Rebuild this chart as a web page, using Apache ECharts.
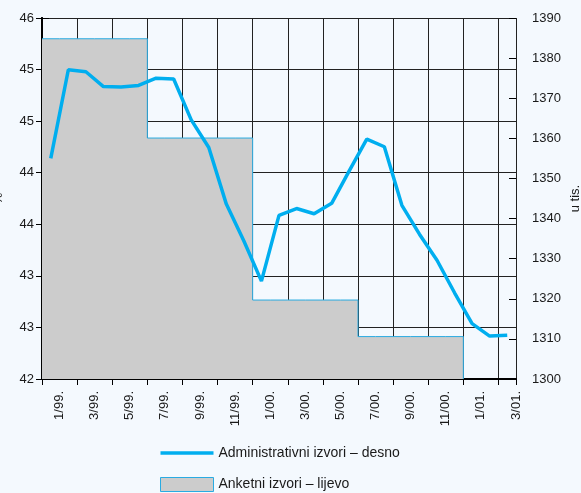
<!DOCTYPE html>
<html>
<head>
<meta charset="utf-8">
<script src="https://cdn.jsdelivr.net/npm/echarts@6/dist/echarts.min.js"></script>
<style>
html,body{margin:0;padding:0;background:#F4F9FE;}
#chart{width:581px;height:493px;}
</style>
</head>
<body>
<div id="chart"></div>
<script>
// Months (x axis categories)
var months = ['1/99.','2/99.','3/99.','4/99.','5/99.','6/99.','7/99.','8/99.','9/99.','10/99.','11/99.','12/99.',
              '1/00.','2/00.','3/00.','4/00.','5/00.','6/00.','7/00.','8/00.','9/00.','10/00.','11/00.','12/00.',
              '1/01.','2/01.','3/01.'];
// Administrativni izvori (right axis, u tis.)
var adminValues = [1355.0, 1377.1, 1376.6, 1372.9, 1372.8, 1373.2, 1375.0, 1374.8, 1364.6, 1357.7, 1343.6, 1334.4,
                   1324.4, 1340.8, 1342.5, 1341.2, 1343.8, 1351.9, 1359.8, 1357.9, 1343.3, 1336.1, 1329.6, 1321.5,
                   1313.8, 1310.7, 1310.9];
// Anketni izvori (left axis), per month
var surveyValues = [45.77, 45.77, 45.77, 45.77, 45.77, 45.77,
                    44.67, 44.67, 44.67, 44.67, 44.67, 44.67,
                    42.875, 42.875, 42.875, 42.875, 42.875, 42.875,
                    42.47, 42.47, 42.47, 42.47, 42.47, 42.47];
var leftMin = 42, leftMax = 46;
var rightTicks = [1300, 1390];

var nameAdmin = 'Administrativni izvori – desno';
var nameSurvey = 'Anketni izvori – lijevo';

var surveyData = surveyValues.map(function (v, i) { return [i, v]; });
surveyData.push([surveyValues.length, surveyValues[surveyValues.length - 1]]);
surveyData.push([surveyValues.length, leftMin]);
var adminData = adminValues.map(function (v, i) { return [i + 0.5, v]; });

var font = 'Liberation Sans, Arial, sans-serif';
var txt = '#1a1a1a';
var chart = echarts.init(document.getElementById('chart'));
chart.setOption({
  backgroundColor: '#F4F9FE',
  animation: false,
  grid: {left: 42, right: 65, top: 18, bottom: 114, containLabel: false, outerBoundsMode: 'none'},
  legend: {
    orient: 'vertical', left: 160, top: 446, padding: 0,
    itemWidth: 53, itemHeight: 14, itemGap: 17,
    textStyle: {fontSize: 14, color: txt, fontFamily: font},
    data: [
      {name: nameAdmin, icon: 'path://M0,0L53,0L53,3.5L0,3.5Z', itemStyle: {color: '#00AEEF', borderWidth: 0}},
      {name: nameSurvey, icon: 'rect', itemStyle: {color: '#CCCCCC', borderColor: '#29ABE2', borderWidth: 1}}
    ]
  },
  xAxis: [
    {
      type: 'value', min: 0, max: months.length, interval: 2, position: 'bottom',
      axisLine: {show: true, lineStyle: {color: '#000', width: 2}},
      axisTick: {show: true, length: 6, lineStyle: {color: '#000', width: 1}},
      axisLabel: {show: false},
      splitLine: {show: true, lineStyle: {color: '#222', width: 1}}
    },
    {
      type: 'value', min: 0, max: months.length, interval: 1, position: 'bottom',
      axisLine: {show: false}, axisTick: {show: false}, splitLine: {show: false},
      axisLabel: {
        show: true, rotate: 90, margin: 12, fontSize: 13, color: txt, fontFamily: font,
        padding: [5, 0, 0, 0],
        formatter: function (v) {
          var k = Math.round(v);
          return (k % 2 === 1 && months[k - 1]) ? months[k - 1] : '';
        }
      }
    }
  ],
  yAxis: [
    {
      type: 'value', min: leftMin, max: leftMax, interval: (leftMax - leftMin) / 7, position: 'left',
      name: '%', nameLocation: 'middle', nameGap: 37, nameRotate: 90,
      nameTextStyle: {fontSize: 13, color: txt, fontFamily: font},
      axisLine: {show: true, lineStyle: {color: '#000', width: 2}},
      axisTick: {show: true, length: 6, lineStyle: {color: '#000'}},
      axisLabel: {margin: 8, fontSize: 13, color: txt, fontFamily: font,
        formatter: function (v) { return String(Math.round(v)); }},
      splitLine: {show: true, lineStyle: {color: '#222', width: 1}}
    },
    {
      type: 'value', min: rightTicks[0], max: rightTicks[1], interval: 10, position: 'right',
      name: 'u tis.', nameLocation: 'middle', nameGap: 53, nameRotate: 90, nameMoveOverlap: false,
      nameTextStyle: {fontSize: 13, color: txt, fontFamily: font},
      axisLine: {show: true, lineStyle: {color: '#000', width: 2}},
      axisTick: {show: true, length: 7, lineStyle: {color: '#000'}},
      axisLabel: {margin: 16, fontSize: 13, color: txt, fontFamily: font,
        formatter: function (v) { return String(Math.round(v)); }},
      splitLine: {show: false}
    },
    {
      type: 'value', min: rightTicks[0], max: rightTicks[1], interval: 10, position: 'right',
      axisLine: {show: false},
      axisTick: {show: true, inside: true, length: 7, lineStyle: {color: '#000'}},
      axisLabel: {show: false},
      splitLine: {show: false}
    }
  ],
  series: [
    {
      name: nameSurvey, type: 'line', xAxisIndex: 0, yAxisIndex: 0,
      step: 'end', data: surveyData, showSymbol: false, symbol: 'none',
      lineStyle: {color: '#29ABE2', width: 1},
      itemStyle: {color: '#CCCCCC', borderColor: '#29ABE2'},
      areaStyle: {color: '#CCCCCC', opacity: 1, origin: 'start'},
      z: 1
    },
    {
      name: nameAdmin, type: 'line', xAxisIndex: 0, yAxisIndex: 1,
      data: adminData, showSymbol: false, symbol: 'none',
      lineStyle: {color: '#00AEEF', width: 3.5},
      itemStyle: {color: '#00AEEF'},
      z: 3
    }
  ]
});
</script>
</body>
</html>
